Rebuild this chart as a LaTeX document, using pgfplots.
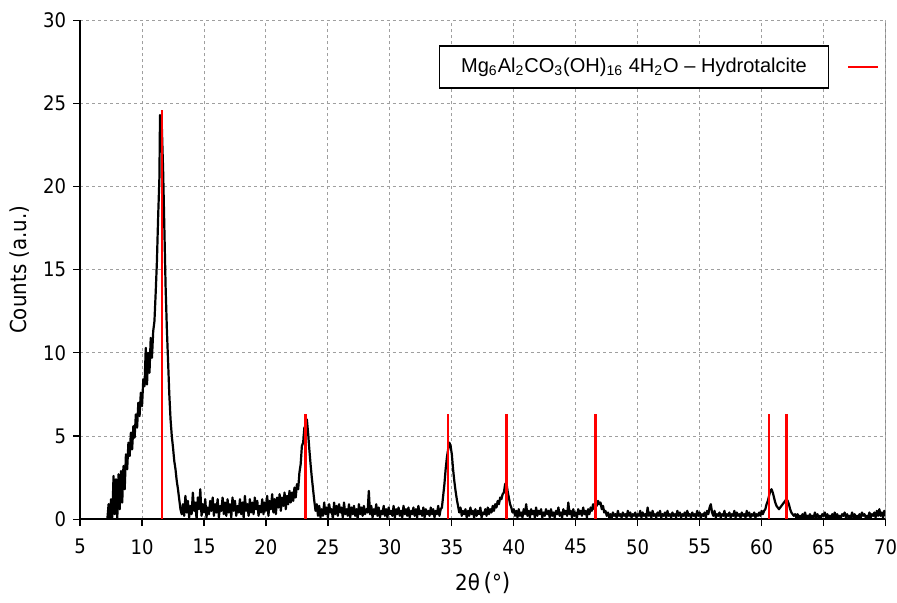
\documentclass[border={1.5pt 1pt 0pt 3pt}]{standalone}
\usepackage{fontspec}
\setmainfont{DejaVu Sans Condensed}
\newfontfamily\legfont{Liberation Sans}
\usepackage{pgfplots}
\pgfplotsset{compat=1.18}
\begin{document}
\begin{tikzpicture}
\begin{axis}[
  scale only axis, width=402pt, height=249pt,
  xmin=5, xmax=70, ymin=0, ymax=30,
  xtick distance=5, ytick distance=5,
  grid=major, grid style={gray!75, dash pattern=on 1.5pt off 1.5pt, line width=0.5pt},
  axis x line*=bottom, axis y line*=left,
  axis line style={black, line width=0.8pt, -},
  tick style={black, line width=0.6pt}, tick align=outside, major tick length=3.5pt,
  tick label style={font=\fontsize{10}{11}\selectfont},
  xticklabel style={yshift=-3pt, inner xsep=0pt},
  /pgf/number format/assume math mode=true,
  xlabel={2θ\,{\large(}°{\large)}}, ylabel={Counts (a.u.)},
  label style={font=\fontsize{11}{13}\selectfont},
  xlabel style={yshift=-2pt},
]
\addplot[black, line width=1.1pt, line join=round, no markers] table[row sep=\\]{
x y\\
5 0\\ 7.2 0\\
7.3 0.9\\ 7.4 0.0\\ 7.5 1.2\\ 7.6 0.1\\ 7.7 2.6\\ 7.8 0.3\\ 7.9 2.4\\ 8.0 0.0\\ 8.1 2.7\\ 8.2 0.6\\
8.3 2.9\\ 8.4 1.0\\ 8.5 3.2\\ 8.6 1.8\\ 8.7 3.9\\ 8.8 3.0\\ 8.9 4.6\\ 9.0 3.8\\ 9.1 5.2\\ 9.2 4.2\\
9.3 5.6\\ 9.4 4.9\\ 9.5 6.3\\ 9.6 5.5\\ 9.7 7.0\\ 9.8 6.2\\ 9.9 7.6\\ 10.0 6.8\\ 10.1 8.4\\ 10.2 8.0\\
10.3 10.3\\ 10.4 8.1\\ 10.5 10.0\\ 10.6 8.8\\ 10.7 10.9\\ 10.8 9.7\\ 10.9 11.3\\ 11.0 11.9\\ 11.1 13.6\\ 11.2 15.5\\
11.3 18.2\\ 11.4 20.5\\ 11.45 24.3\\ 11.5 23.8\\ 11.6 23.5\\ 11.7 21.0\\ 11.8 17.5\\ 11.9 14.0\\ 12.0 11.5\\ 12.1 9.5\\
12.2 7.5\\ 12.3 6.0\\ 12.4 5.0\\ 12.5 4.3\\ 12.6 3.5\\ 12.7 3.0\\ 12.8 2.3\\ 12.9 1.8\\ 13.0 1.2\\ 13.1 0.6\\
13.2 0.3\\ 13.3 0.9\\ 13.4 0.2\\ 13.5 1.4\\ 13.6 0.4\\ 13.7 1.1\\ 13.8 0.1\\ 13.9 0.8\\ 14.0 0.3\\ 14.1 1.6\\
14.2 0.5\\ 14.3 1.0\\ 14.4 0.0\\ 14.5 1.3\\ 14.6 0.6\\ 14.7 1.8\\ 14.8 0.2\\ 14.9 0.9\\ 15.0 0.4\\ 15.1 1.2\\
15.2 0.1\\ 15.3 0.7\\ 15.4 0.3\\ 15.5 1.1\\ 15.6 0.5\\ 15.7 1.3\\ 15.8 0.2\\ 15.9 0.9\\ 16.0 0.4\\ 16.1 1.2\\
16.2 0.1\\ 16.3 0.8\\ 16.4 0.5\\ 16.5 1.3\\ 16.6 0.3\\ 16.7 1.0\\ 16.8 0.2\\ 16.9 1.2\\ 17.0 0.4\\ 17.1 0.9\\
17.2 0.1\\ 17.3 1.3\\ 17.4 0.5\\ 17.5 1.1\\ 17.6 0.2\\ 17.7 0.8\\ 17.8 0.4\\ 17.9 1.2\\ 18.0 0.3\\ 18.1 1.0\\
18.2 0.1\\ 18.3 1.4\\ 18.4 0.5\\ 18.5 0.9\\ 18.6 0.2\\ 18.7 1.2\\ 18.8 0.4\\ 18.9 1.0\\ 19.0 0.3\\ 19.1 1.3\\
19.2 0.6\\ 19.3 1.1\\ 19.4 0.2\\ 19.5 0.8\\ 19.6 0.4\\ 19.7 1.2\\ 19.8 0.3\\ 19.9 1.0\\ 20.0 0.5\\ 20.1 1.4\\
20.2 0.2\\ 20.3 1.1\\ 20.4 0.6\\ 20.5 1.5\\ 20.6 0.4\\ 20.7 1.2\\ 20.8 0.3\\ 20.9 1.3\\ 21.0 0.7\\ 21.1 1.5\\
21.2 0.5\\ 21.3 1.3\\ 21.4 0.8\\ 21.5 1.6\\ 21.6 0.6\\ 21.7 1.4\\ 21.8 0.9\\ 21.9 1.7\\ 22.0 1.0\\ 22.1 1.6\\
22.2 1.1\\ 22.3 1.9\\ 22.4 1.3\\ 22.5 2.1\\ 22.6 1.8\\ 22.7 2.8\\ 22.8 3.3\\ 22.9 4.4\\ 23.0 4.6\\ 23.1 5.5\\
23.2 5.6\\ 23.3 6.0\\ 23.4 5.2\\ 23.5 4.2\\ 23.6 3.3\\ 23.7 2.5\\ 23.8 1.8\\ 23.9 1.1\\ 24.0 0.5\\ 24.1 0.9\\
24.2 0.2\\ 24.3 0.8\\ 24.4 0.1\\ 24.5 0.6\\ 24.6 0.2\\ 24.7 1.0\\ 24.8 0.3\\ 24.9 0.7\\ 25.0 0.1\\ 25.1 0.9\\
25.2 0.4\\ 25.3 0.6\\ 25.4 0.0\\ 25.5 1.0\\ 25.6 0.3\\ 25.7 0.8\\ 25.8 0.2\\ 25.9 0.9\\ 26.0 0.4\\ 26.1 0.7\\
26.2 0.1\\ 26.3 1.0\\ 26.4 0.3\\ 26.5 0.6\\ 26.6 0.2\\ 26.7 0.9\\ 26.8 0.1\\ 26.9 0.7\\ 27.0 0.3\\ 27.1 0.8\\
27.2 0.2\\ 27.3 0.6\\ 27.4 0.0\\ 27.5 0.9\\ 27.6 0.3\\ 27.7 0.7\\ 27.8 0.2\\ 27.9 0.8\\ 28.0 0.3\\ 28.1 0.6\\
28.2 0.4\\ 28.3 1.7\\ 28.4 0.3\\ 28.5 0.8\\ 28.6 0.1\\ 28.7 0.6\\ 28.8 0.3\\ 28.9 0.9\\ 29.0 0.2\\ 29.1 0.7\\
29.2 0.1\\ 29.3 0.5\\ 29.4 0.3\\ 29.5 0.8\\ 29.6 0.2\\ 29.7 0.6\\ 29.8 0.1\\ 29.9 0.7\\ 30.0 0.3\\ 30.1 0.5\\
30.2 0.2\\ 30.3 0.8\\ 30.4 0.1\\ 30.5 0.6\\ 30.6 0.3\\ 30.7 0.7\\ 30.8 0.2\\ 30.9 0.5\\ 31.0 0.1\\ 31.1 0.8\\
31.2 0.3\\ 31.3 0.6\\ 31.4 0.2\\ 31.5 0.7\\ 31.6 0.1\\ 31.7 0.5\\ 31.8 0.3\\ 31.9 0.7\\ 32.0 0.2\\ 32.1 0.6\\
32.2 0.1\\ 32.3 0.8\\ 32.4 0.3\\ 32.5 0.5\\ 32.6 0.2\\ 32.7 0.7\\ 32.8 0.1\\ 32.9 0.6\\ 33.0 0.3\\ 33.1 0.5\\
33.2 0.2\\ 33.3 0.7\\ 33.4 0.3\\ 33.5 0.6\\ 33.6 0.1\\ 33.7 0.5\\ 33.8 0.3\\ 33.9 0.8\\ 34.0 0.2\\ 34.1 0.6\\
34.2 0.7\\ 34.3 1.4\\ 34.4 2.1\\ 34.5 3.0\\ 34.6 3.7\\ 34.7 4.2\\ 34.8 4.6\\ 34.9 4.4\\ 35.0 3.9\\ 35.1 3.0\\
35.2 2.3\\ 35.3 1.7\\ 35.4 1.2\\ 35.5 0.8\\ 35.6 0.4\\ 35.7 0.7\\ 35.8 0.2\\ 35.9 0.5\\ 36.0 0.3\\ 36.1 0.6\\
36.2 0.1\\ 36.3 0.5\\ 36.4 0.2\\ 36.5 0.7\\ 36.6 0.3\\ 36.7 0.5\\ 36.8 0.1\\ 36.9 0.6\\ 37.0 0.2\\ 37.1 0.5\\
37.2 0.3\\ 37.3 0.7\\ 37.4 0.1\\ 37.5 0.4\\ 37.6 0.3\\ 37.7 0.6\\ 37.8 0.2\\ 37.9 0.7\\ 38.0 0.3\\ 38.1 0.6\\
38.2 0.4\\ 38.3 0.8\\ 38.4 0.5\\ 38.5 0.9\\ 38.6 0.7\\ 38.7 1.1\\ 38.8 0.9\\ 38.9 1.3\\ 39.0 1.2\\ 39.1 1.5\\
39.2 1.6\\ 39.3 2.1\\ 39.4 2.2\\ 39.5 1.7\\ 39.6 1.3\\ 39.7 0.9\\ 39.8 0.7\\ 39.9 0.4\\ 40.0 0.6\\ 40.1 0.2\\
40.2 0.5\\ 40.3 0.1\\ 40.4 0.6\\ 40.5 0.2\\ 40.6 0.4\\ 40.7 0.1\\ 40.8 0.6\\ 40.9 0.3\\ 41.0 0.9\\ 41.1 0.2\\
41.2 0.5\\ 41.3 0.1\\ 41.4 0.6\\ 41.5 0.3\\ 41.6 0.5\\ 41.7 0.1\\ 41.8 0.7\\ 41.9 0.2\\ 42.0 0.5\\ 42.1 0.3\\
42.2 0.6\\ 42.3 0.1\\ 42.4 0.4\\ 42.5 0.2\\ 42.6 0.6\\ 42.7 0.3\\ 42.8 0.5\\ 42.9 0.1\\ 43.0 0.6\\ 43.1 0.2\\
43.2 0.4\\ 43.3 0.1\\ 43.4 0.5\\ 43.5 0.3\\ 43.6 0.7\\ 43.7 0.2\\ 43.8 0.4\\ 43.9 0.1\\ 44.0 0.6\\ 44.1 0.3\\
44.2 0.5\\ 44.3 0.2\\ 44.4 1.0\\ 44.5 0.3\\ 44.6 0.5\\ 44.7 0.1\\ 44.8 0.6\\ 44.9 0.2\\ 45.0 0.4\\ 45.1 0.1\\
45.2 0.6\\ 45.3 0.3\\ 45.4 0.5\\ 45.5 0.2\\ 45.6 0.7\\ 45.7 0.3\\ 45.8 0.5\\ 45.9 0.1\\ 46.0 0.6\\ 46.1 0.3\\
46.2 0.7\\ 46.3 0.5\\ 46.4 0.9\\ 46.5 0.6\\ 46.6 1.0\\ 46.7 0.8\\ 46.8 1.1\\ 46.9 0.9\\ 47.0 1.0\\ 47.1 0.6\\
47.2 0.8\\ 47.3 0.4\\ 47.4 0.5\\ 47.5 0.2\\ 47.6 0.4\\ 47.7 0.1\\ 47.8 0.3\\ 47.9 0.1\\ 48.0 0.4\\ 48.1 0.2\\
48.2 0.3\\ 48.3 0.1\\ 48.4 0.5\\ 48.5 0.2\\ 48.6 0.3\\ 48.7 0.1\\ 48.8 0.4\\ 48.9 0.2\\ 49.0 0.3\\ 49.1 0.1\\
49.2 0.5\\ 49.3 0.2\\ 49.4 0.4\\ 49.5 0.1\\ 49.6 0.3\\ 49.7 0.2\\ 49.8 0.4\\ 49.9 0.1\\ 50.0 0.3\\ 50.1 0.2\\
50.2 0.5\\ 50.3 0.1\\ 50.4 0.4\\ 50.5 0.2\\ 50.6 0.3\\ 50.7 0.1\\ 50.8 0.7\\ 50.9 0.2\\ 51.0 0.4\\ 51.1 0.1\\
51.2 0.5\\ 51.3 0.2\\ 51.4 0.3\\ 51.5 0.1\\ 51.6 0.4\\ 51.7 0.2\\ 51.8 0.5\\ 51.9 0.1\\ 52.0 0.3\\ 52.1 0.2\\
52.2 0.4\\ 52.3 0.1\\ 52.4 0.5\\ 52.5 0.2\\ 52.6 0.3\\ 52.7 0.1\\ 52.8 0.4\\ 52.9 0.2\\ 53.0 0.3\\ 53.1 0.1\\
53.2 0.5\\ 53.3 0.2\\ 53.4 0.4\\ 53.5 0.1\\ 53.6 0.3\\ 53.7 0.2\\ 53.8 0.4\\ 53.9 0.1\\ 54.0 0.5\\ 54.1 0.2\\
54.2 0.3\\ 54.3 0.1\\ 54.4 0.4\\ 54.5 0.2\\ 54.6 0.3\\ 54.7 0.1\\ 54.8 0.5\\ 54.9 0.2\\ 55.0 0.4\\ 55.1 0.1\\
55.2 0.3\\ 55.3 0.2\\ 55.4 0.4\\ 55.5 0.1\\ 55.6 0.5\\ 55.7 0.3\\ 55.8 0.7\\ 55.9 0.9\\ 56.0 0.4\\ 56.1 0.2\\
56.2 0.5\\ 56.3 0.1\\ 56.4 0.3\\ 56.5 0.2\\ 56.6 0.4\\ 56.7 0.1\\ 56.8 0.3\\ 56.9 0.2\\ 57.0 0.5\\ 57.1 0.1\\
57.2 0.3\\ 57.3 0.2\\ 57.4 0.4\\ 57.5 0.1\\ 57.6 0.3\\ 57.7 0.2\\ 57.8 0.5\\ 57.9 0.1\\ 58.0 0.4\\ 58.1 0.2\\
58.2 0.3\\ 58.3 0.1\\ 58.4 0.4\\ 58.5 0.2\\ 58.6 0.3\\ 58.7 0.1\\ 58.8 0.5\\ 58.9 0.2\\ 59.0 0.4\\ 59.1 0.1\\
59.2 0.3\\ 59.3 0.2\\ 59.4 0.4\\ 59.5 0.1\\ 59.6 0.3\\ 59.7 0.2\\ 59.8 0.4\\ 59.9 0.2\\ 60.0 0.5\\ 60.1 0.3\\
60.2 0.5\\ 60.3 0.6\\ 60.4 0.9\\ 60.5 1.1\\ 60.6 1.4\\ 60.7 1.7\\ 60.8 1.8\\ 60.9 1.6\\ 61.0 1.3\\ 61.1 1.0\\
61.2 0.8\\ 61.3 0.7\\ 61.4 0.6\\ 61.5 0.7\\ 61.6 0.8\\ 61.7 0.9\\ 61.8 1.0\\ 61.9 1.1\\ 62.0 1.2\\ 62.1 1.1\\
62.2 0.9\\ 62.3 0.6\\ 62.4 0.4\\ 62.5 0.3\\ 62.6 0.2\\ 62.7 0.3\\ 62.8 0.1\\ 62.9 0.3\\ 63.0 0.1\\ 63.1 0.2\\
63.2 0.1\\ 63.3 0.3\\ 63.4 0.1\\ 63.5 0.4\\ 63.6 0.1\\ 63.7 0.2\\ 63.8 0.1\\ 63.9 0.3\\ 64.0 0.1\\ 64.1 0.2\\
64.2 0.1\\ 64.3 0.4\\ 64.4 0.1\\ 64.5 0.3\\ 64.6 0.1\\ 64.7 0.2\\ 64.8 0.1\\ 64.9 0.3\\ 65.0 0.2\\ 65.1 0.4\\
65.2 0.1\\ 65.3 0.3\\ 65.4 0.1\\ 65.5 0.2\\ 65.6 0.1\\ 65.7 0.3\\ 65.8 0.1\\ 65.9 0.4\\ 66.0 0.1\\ 66.1 0.3\\
66.2 0.1\\ 66.3 0.2\\ 66.4 0.1\\ 66.5 0.3\\ 66.6 0.2\\ 66.7 0.4\\ 66.8 0.1\\ 66.9 0.3\\ 67.0 0.1\\ 67.1 0.2\\
67.2 0.1\\ 67.3 0.4\\ 67.4 0.1\\ 67.5 0.3\\ 67.6 0.1\\ 67.7 0.2\\ 67.8 0.1\\ 67.9 0.3\\ 68.0 0.1\\ 68.1 0.4\\
68.2 0.2\\ 68.3 0.3\\ 68.4 0.1\\ 68.5 0.2\\ 68.6 0.1\\ 68.7 0.4\\ 68.8 0.1\\ 68.9 0.3\\ 69.0 0.2\\ 69.1 0.4\\
69.2 0.1\\ 69.3 0.5\\ 69.4 0.2\\ 69.5 0.6\\ 69.6 0.2\\ 69.7 0.4\\ 69.8 0.1\\ 69.9 0.5\\ 70.0 0.2\\
};
% reference lines, hydrotalcite
\addplot[ycomb, red, line width=1.2pt, no markers] coordinates {
 (11.6,24.6) (23.2,6.3) (34.7,6.3) (39.4,6.3) (46.6,6.3) (60.6,6.3) (62.0,6.3)};
% right spine
\draw[gray, line width=0.8pt] (axis cs:70,0) -- (axis cs:70,30);
% legend
\node[draw, fill=white, line width=0.8pt, minimum width=194pt, minimum height=21pt,
  font=\legfont\fontsize{10}{12}\selectfont] at (axis cs:49.7,27.2)
  {Mg\textsubscript{6}Al\textsubscript{2}CO\textsubscript{3}(OH)\textsubscript{16} 4H\textsubscript{2}O – Hydrotalcite};
\draw[red, line width=1pt] (axis cs:67.0,27.2) -- (axis cs:69.4,27.2);
\end{axis}
\end{tikzpicture}
\end{document}
